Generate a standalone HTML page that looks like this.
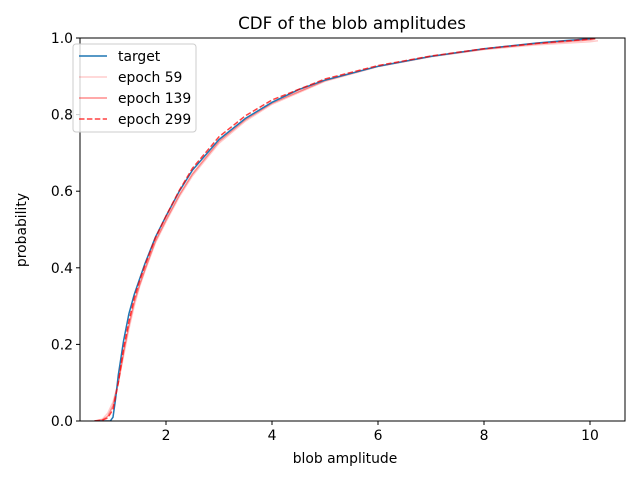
<!DOCTYPE html>
<html><head><meta charset="utf-8"><style>
body{margin:0;background:#fff}
svg{font-family:"DejaVu Sans","Liberation Sans",sans-serif}
</style></head><body>
<svg id="chart" width="640" height="480" xmlns="http://www.w3.org/2000/svg">
<rect width="640" height="480" fill="#fff"/>
<text x="352" y="29" font-size="16.7px" text-anchor="middle">CDF of the blob amplitudes</text>
<g id="plot"></g>
<text x="345" y="463" font-size="13.9px" text-anchor="middle">blob amplitude</text>
<text x="26" y="230" font-size="13.9px" text-anchor="middle" transform="rotate(-90 26 230)">probability</text>
</svg>
<script>
const targetX = [0.65,0.95,1.0,1.05,1.1,1.2,1.3,1.4,1.5,1.6,1.8,2.0,2.25,2.5,3.0,3.5,4.0,4.5,5.0,6.0,7.0,8.0,9.0,9.5,10.0,10.1];
const targetY = [0,0,0.01,0.06,0.12,0.21,0.28,0.33,0.37,0.41,0.48,0.535,0.60,0.655,0.735,0.79,0.832,0.865,0.89,0.926,0.952,0.972,0.987,0.993,0.998,1.0];
const e59X = [0.65,0.8,0.9,1.0,1.1,1.2,1.3,1.4,1.5,1.6,1.8,2.0,2.25,2.5,3.0,3.5,4.0,5.0,6.0,7.0,8.0,9.0,10.0,10.15];
const e59Y = [0,0.005,0.02,0.05,0.1,0.17,0.24,0.30,0.35,0.39,0.465,0.52,0.585,0.64,0.725,0.783,0.827,0.887,0.925,0.951,0.97,0.982,0.99,0.993];
const e139X = [0.65,0.8,0.9,1.0,1.1,1.2,1.3,1.4,1.5,1.6,1.8,2.0,2.25,2.5,3.0,3.5,4.0,5.0,6.0,7.0,8.0,9.0,10.0,10.1];
const e139Y = [0,0.003,0.012,0.04,0.1,0.18,0.25,0.31,0.355,0.395,0.47,0.525,0.59,0.645,0.73,0.787,0.83,0.889,0.926,0.952,0.971,0.985,0.995,0.997];
const e299X = [0.65,0.8,0.9,1.0,1.1,1.2,1.3,1.4,1.5,1.6,1.8,2.0,2.25,2.5,3.0,3.5,4.0,5.0,6.0,7.0,8.0,9.0,10.0,10.1];
const e299Y = [0,0.002,0.008,0.03,0.1,0.19,0.26,0.32,0.365,0.405,0.478,0.535,0.602,0.66,0.742,0.797,0.838,0.893,0.928,0.953,0.972,0.986,0.997,1.0];
const xTicks = [2,4,6,8,10];
const yTicks = [0,0.2,0.4,0.6,0.8,1.0];
const yTickLabels = ["0.0","0.2","0.4","0.6","0.8","1.0"];

const L=80,R=625,T=38,B=421;
const xS=v=>60+53*v;
const yS=v=>B-(B-T)*v;
const NS='http://www.w3.org/2000/svg';
const plot=document.getElementById('plot');
function mk(tag,attrs,parent){const e=document.createElementNS(NS,tag);for(const k in attrs)e.setAttribute(k,attrs[k]);(parent||plot).appendChild(e);return e;}
const clip=mk('clipPath',{id:'clip'});mk('rect',{x:L,y:T,width:R-L,height:B-T},clip);
const series=[
 {x:e59X,y:e59Y,c:'#ff0000',o:0.2,d:'',n:'series-epoch-59'},
 {x:e139X,y:e139Y,c:'#ff0000',o:0.45,d:'',n:'series-epoch-139'},
 {x:targetX,y:targetY,c:'#1f77b4',o:1,d:'',n:'series-target'},
 {x:e299X,y:e299Y,c:'#ff0000',o:0.75,d:'5.5,2.4',n:'series-epoch-299'}
];
series.forEach(s=>{
 const pts=s.x.map((v,i)=>xS(v).toFixed(1)+','+yS(s.y[i]).toFixed(1)).join(' ');
 const p=mk('polyline',{points:pts,fill:'none',stroke:s.c,'stroke-opacity':s.o,'stroke-width':1.5,'stroke-dasharray':s.d,'clip-path':'url(#clip)'});
 
 
});
const frame=mk('rect',{x:L,y:T,width:R-L,height:B-T,fill:'none',stroke:'#000','stroke-width':1});


xTicks.forEach(t=>{
 const x=xS(t);
 mk('line',{x1:x,x2:x,y1:B,y2:B+4,stroke:'#000'});
 const tx=mk('text',{x:x,y:B+19,'font-size':'13.9px','text-anchor':'middle'});tx.textContent=t;
 
 
});
yTicks.forEach((t,i)=>{
 const y=yS(t);
 mk('line',{x1:L-4,x2:L,y1:y,y2:y,stroke:'#000'});
 const tx=mk('text',{x:L-7,y:y+5,'font-size':'13.9px','text-anchor':'end'});tx.textContent=yTickLabels[i];
 
 
});
const leg=mk('g',{});


mk('rect',{x:73,y:44,width:123,height:88,rx:3,fill:'#fff','fill-opacity':0.8,stroke:'#ccc'},leg);
const items=[['target','#1f77b4',1,''],['epoch 59','#ff0000',0.2,''],['epoch 139','#ff0000',0.45,''],['epoch 299','#ff0000',0.75,'5.5,2.4']];
items.forEach((it,i)=>{
 const y=56+i*21;
 const g=mk('g',{},leg);
 
 
 mk('line',{x1:79,x2:107,y1:y,y2:y,stroke:it[1],'stroke-opacity':it[2],'stroke-width':1.5,'stroke-dasharray':it[3]},g);
 const tx=mk('text',{x:118,y:y+5,'font-size':'13.9px'},g);tx.textContent=it[0];
});
</script>
</body></html>
